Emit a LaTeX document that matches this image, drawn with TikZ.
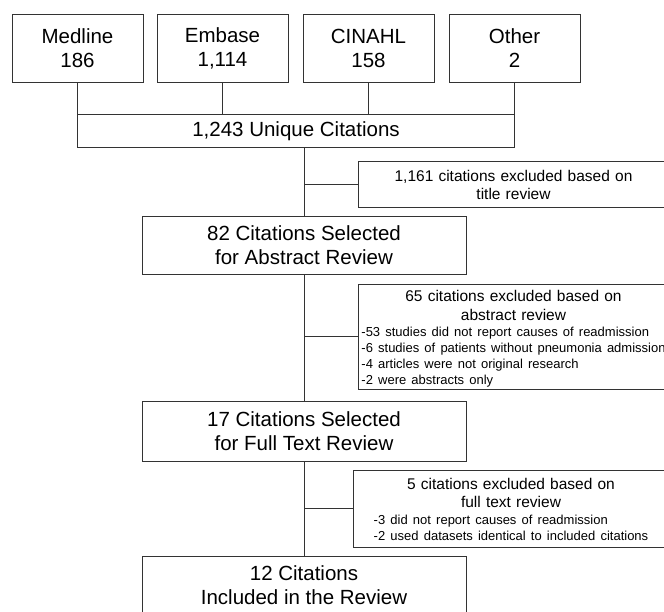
\documentclass[tikz,border=0pt]{standalone}
\usepackage{fontspec}
\setmainfont{Liberation Sans}
\newcommand{\bigfont}{\fontsize{20.5}{23.5}\selectfont}
\newcommand{\midfont}{\fontsize{15.5}{18.3}\selectfont}
\newcommand{\listfont}{\fontsize{13}{16}\selectfont}
\newcommand{\exlist}[1]{\par\vspace{4.5pt}{\listfont\begin{tabular}{@{}l@{}}#1\end{tabular}\par}\kern-7pt}

\tikzset{
  box/.style={draw=black!80, line width=0.9pt, inner sep=2pt},
  srcbox/.style={box, minimum width=131pt, minimum height=68.7pt, align=center, font=\bigfont},
  stagebox/.style={box, minimum width=324pt, minimum height=58pt, align=center, font=\bigfont},
  exclbox/.style={box, text width=307pt, align=center, font=\midfont},
  link/.style={draw=black!80, line width=0.9pt}
}

\begin{document}
\begin{tikzpicture}[x=1pt,y=-1pt]
  \useasboundingbox (0,0) rectangle (664,611);
  \clip (0,0) rectangle (664,611);
  % databases
  \node[box, minimum width=437pt, minimum height=33.4pt, font=\bigfont] (uniq) at (296,131) {1,243 Unique Citations};
  \foreach \name/\db/\n/\x in {med/Medline/186/77.5, emb/Embase/{1,114}/222.5, cin/CINAHL/158/368.5, oth/Other/2/514.5}{
    \node[srcbox] (\name) at (\x,48.3) {\db\\\n};
    \draw[link] (\name) -- (\name |- uniq.north);}
  % screening stages
  \node[stagebox] (abs) at (304,245) {82 Citations Selected\\for Abstract Review};
  \node[stagebox, minimum height=59.3pt] (full) at (304,431.4) {17 Citations Selected\\for Full Text Review};
  \node[stagebox] (incl) at (304,585) {12 Citations\\Included in the Review};
  % exclusions
  \node[exclbox, minimum height=46pt] (titx) at (513.5,184.7) {1,161 citations excluded based on\\title review};
  \node[exclbox, minimum height=105.3pt] (absx) at (513.5,336.7) {65 citations excluded based on\\abstract review
    \exlist{-53 studies did not report causes of readmission\\-6 studies of patients without pneumonia admission\\-4 articles were not original research\\-2 were abstracts only}};
  \node[exclbox, text width=312pt, minimum height=77pt] (ftx) at (511,508.5) {5 citations excluded based on\\full text review
    \exlist{-3 did not report causes of readmission\\-2 used datasets identical to included citations}};
  % spine
  \draw[link] (abs.north |- uniq.south) -- (abs.north);
  \draw[link] (abs.north |- titx.west) -- (titx.west);
  \draw[link] (abs.south) -- (full.north);
  \draw[link] (abs.south |- absx.west) -- (absx.west);
  \draw[link] (full.south) -- (incl.north);
  \draw[link] (full.south |- ftx.west) -- (ftx.west);
\end{tikzpicture}
\end{document}
